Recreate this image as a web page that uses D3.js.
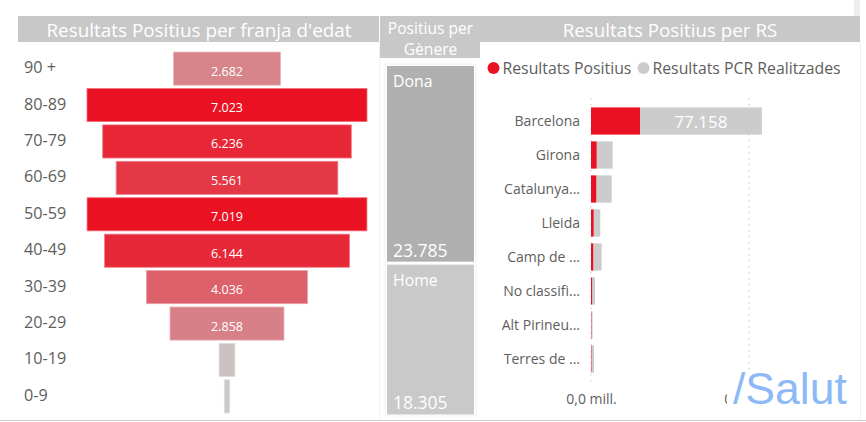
<!DOCTYPE html>
<html>
<head>
<meta charset="utf-8">
<script src="https://cdn.jsdelivr.net/npm/d3@7"></script>
<style>
  html, body { margin: 0; padding: 0; background: #fff; }
  svg { display: block; font-family: 'Open Sans', sans-serif; }
  .head { fill: #fff; text-anchor: middle; }
  .cat { fill: #605e5c; }
</style>
</head>
<body>
<svg id="chart" width="866" height="422"></svg>
<script>
const ages = [
  { age: '90 +', v: 2682 },
  { age: '80-89', v: 7023 },
  { age: '70-79', v: 6236 },
  { age: '60-69', v: 5561 },
  { age: '50-59', v: 7019 },
  { age: '40-49', v: 6144 },
  { age: '30-39', v: 4036 },
  { age: '20-29', v: 2858 },
  { age: '10-19', v: 395 },
  { age: '0-9', v: 135 },
];
const gender = [
  { name: 'Dona', value: 23785, color: '#b0b0b0' },
  { name: 'Home', value: 18305, color: '#c9c9c9' },
];
const regions = [
  { rs: 'Barcelona', pos: 31000, pcr: 77158 },
  { rs: 'Girona', pos: 3600, pcr: 10100 },
  { rs: 'Catalunya...', pos: 3350, pcr: 9750 },
  { rs: 'Lleida', pos: 1700, pcr: 4200 },
  { rs: 'Camp de ...', pos: 1450, pcr: 5300 },
  { rs: 'No classifi...', pos: 700, pcr: 1800 },
  { rs: 'Alt Pirineu...', pos: 250, pcr: 750 },
  { rs: 'Terres de ...', pos: 300, pcr: 1600 },
];

const svg = d3.select('#chart');
const fmt = d3.formatLocale({ decimal: ',', thousands: '.', grouping: [3], currency: ['', ''] }).format(',d');

// page frame
svg.append('rect').attr('x', 854).attr('y', 0).attr('width', 6).attr('height', 16).attr('fill', '#eeeeee');
svg.append('line').attr('x1', 860.5).attr('x2', 860.5).attr('y1', 42).attr('y2', 420).attr('stroke', '#f0f0f0');
svg.append('line').attr('x1', 379.5).attr('x2', 379.5).attr('y1', 42).attr('y2', 420).attr('stroke', '#f3f3f3');
svg.append('line').attr('x1', 0).attr('x2', 866).attr('y1', 420.5).attr('y2', 420.5).attr('stroke', '#cccccc');

// headers
const header = (x, w, h) => svg.append('rect').attr('x', x).attr('y', 16).attr('width', w).attr('height', h).attr('fill', '#c8c8c8');
header(18, 361, 26);
header(380, 100, 42);
header(480, 380, 26);
svg.append('text').attr('class', 'head').attr('x', 199).attr('y', 36.5).attr('font-size', 18.9).text("Resultats Positius per franja d'edat");
svg.append('text').attr('class', 'head').attr('x', 430.5).attr('y', 34).attr('font-size', 15.6).text('Positius per');
svg.append('text').attr('class', 'head').attr('x', 430.5).attr('y', 55).attr('font-size', 15.6).text('Gènere');
svg.append('text').attr('class', 'head').attr('x', 670).attr('y', 36.5).attr('font-size', 18.8).text('Resultats Positius per RS');

// funnel
const yAge = d3.scaleBand().domain(ages.map((d) => d.age)).range([50.4, 414.6]).paddingInner(0.09).paddingOuter(0.045);
const wAge = d3.scaleLinear().domain([0, 7023]).range([0, 280]);
const cAge = d3.scaleLinear().domain([0, 7023]).range(['#cccccc', '#ea1123']);
const cx = 227;

const row = svg.append('g').selectAll('g').data(ages).join('g');
row.append('rect')
  .attr('x', (d) => cx - wAge(d.v) / 2)
  .attr('y', (d) => yAge(d.age))
  .attr('width', (d) => wAge(d.v))
  .attr('height', yAge.bandwidth())
  .attr('fill', (d) => cAge(d.v))
  .attr('stroke', (d) => d3.interpolateRgb(cAge(d.v), '#fff')(0.4))
  .attr('stroke-width', 0.8);
row.append('text')
  .attr('class', 'cat')
  .attr('x', 24)
  .attr('y', (d) => yAge(d.age) + yAge.bandwidth() / 2 + 4.5)
  .attr('font-size', 16.2)
  .text((d) => d.age);
row.filter((d) => d.v > 1000).append('text')
  .attr('x', cx)
  .attr('y', (d) => yAge(d.age) + yAge.bandwidth() / 2 + 7)
  .attr('text-anchor', 'middle')
  .attr('fill', '#fff')
  .attr('font-size', 12.5)
  .text((d) => fmt(d.v));

// gender treemap
svg.append('rect').attr('x', 385).attr('y', 64).attr('width', 91).attr('height', 352).attr('fill', 'none').attr('stroke', '#f2f2f2');
const root = d3.hierarchy({ children: gender }).sum((d) => d.value || 0);
d3.treemap().tile(d3.treemapSlice).size([87, 348.5]).paddingInner(3)(root);
const cell = svg.append('g').attr('transform', 'translate(387,66)').selectAll('g').data(root.leaves()).join('g')
  .attr('transform', (d) => `translate(${d.x0},${d.y0})`);
cell.append('rect')
  .attr('width', (d) => d.x1 - d.x0)
  .attr('height', (d) => d.y1 - d.y0)
  .attr('fill', (d) => d.data.color);
cell.append('text').attr('x', 6).attr('y', 21).attr('fill', '#fff').attr('font-size', 15.8).text((d) => d.data.name);
cell.append('text').attr('x', 6).attr('y', (d) => d.y1 - d.y0 - 5).attr('fill', '#fff').attr('font-size', 17.5).text((d) => fmt(d.data.value));

// legend
const legend = [
  { label: 'Resultats Positius', color: '#ea1123', x: 493.5 },
  { label: 'Resultats PCR Realitzades', color: '#cccccc', x: 643.5 },
];
const lg = svg.append('g').selectAll('g').data(legend).join('g').attr('transform', (d) => `translate(${d.x},68)`);
lg.append('circle').attr('r', 6).attr('fill', (d) => d.color);
lg.append('text').attr('class', 'cat').attr('x', 9).attr('y', 5.5).attr('font-size', 15.8).text((d) => d.label);

// stacked bars per RS
const x = d3.scaleLinear().domain([0, 100000]).range([591, 749]);
const y = d3.scaleBand().domain(regions.map((d) => d.rs)).range([104, 376]).paddingInner(0.2).paddingOuter(0.1);

const grid = svg.append('g');
grid.selectAll('line').data(x.ticks(1)).join('line')
  .attr('x1', (d) => x(d)).attr('x2', (d) => x(d))
  .attr('y1', 98).attr('y2', 386)
  .attr('stroke', '#c8c8c8').attr('stroke-dasharray', '1.5 4.5');

const axis = d3.axisBottom(x).ticks(1).tickSize(0).tickFormat((d) => (d / 1e6).toFixed(1).replace('.', ',') + ' mill.');
const axisG = svg.append('g').attr('transform', 'translate(0,391)').call(axis);
axisG.select('.domain').remove();
axisG.selectAll('text').attr('fill', '#605e5c').attr('font-size', 14).attr('font-family', "'Open Sans', sans-serif");

const bar = svg.append('g').selectAll('g').data(regions).join('g');
bar.append('rect')
  .attr('x', (d) => x(d.pos))
  .attr('y', (d) => y(d.rs))
  .attr('width', (d) => x(d.pos + d.pcr) - x(d.pos))
  .attr('height', y.bandwidth())
  .attr('fill', '#cccccc');
bar.append('rect')
  .attr('x', x(0))
  .attr('y', (d) => y(d.rs))
  .attr('width', (d) => x(d.pos) - x(0))
  .attr('height', y.bandwidth())
  .attr('fill', '#ea1123');
bar.append('text')
  .attr('class', 'cat')
  .attr('x', 580)
  .attr('y', (d) => y(d.rs) + y.bandwidth() / 2 + 5)
  .attr('text-anchor', 'end')
  .attr('font-size', 14)
  .text((d) => d.rs);
bar.filter((d) => d.pcr > 50000).append('text')
  .attr('x', (d) => (x(d.pos) + x(d.pos + d.pcr)) / 2)
  .attr('y', (d) => y(d.rs) + y.bandwidth() / 2 + 7)
  .attr('text-anchor', 'middle')
  .attr('fill', '#fff')
  .attr('font-size', 17)
  .text((d) => fmt(d.pcr));

// logo sits over the chart and hides most of the second tick label
svg.append('rect').attr('x', 727).attr('y', 372).attr('width', 130).attr('height', 44).attr('fill', '#fff');
svg.append('text').attr('x', 733).attr('y', 404).attr('fill', '#8db9f7')
  .attr('font-family', "'Liberation Sans', sans-serif").attr('font-size', 44.5).text('/Salut');
</script>
</body>
</html>
